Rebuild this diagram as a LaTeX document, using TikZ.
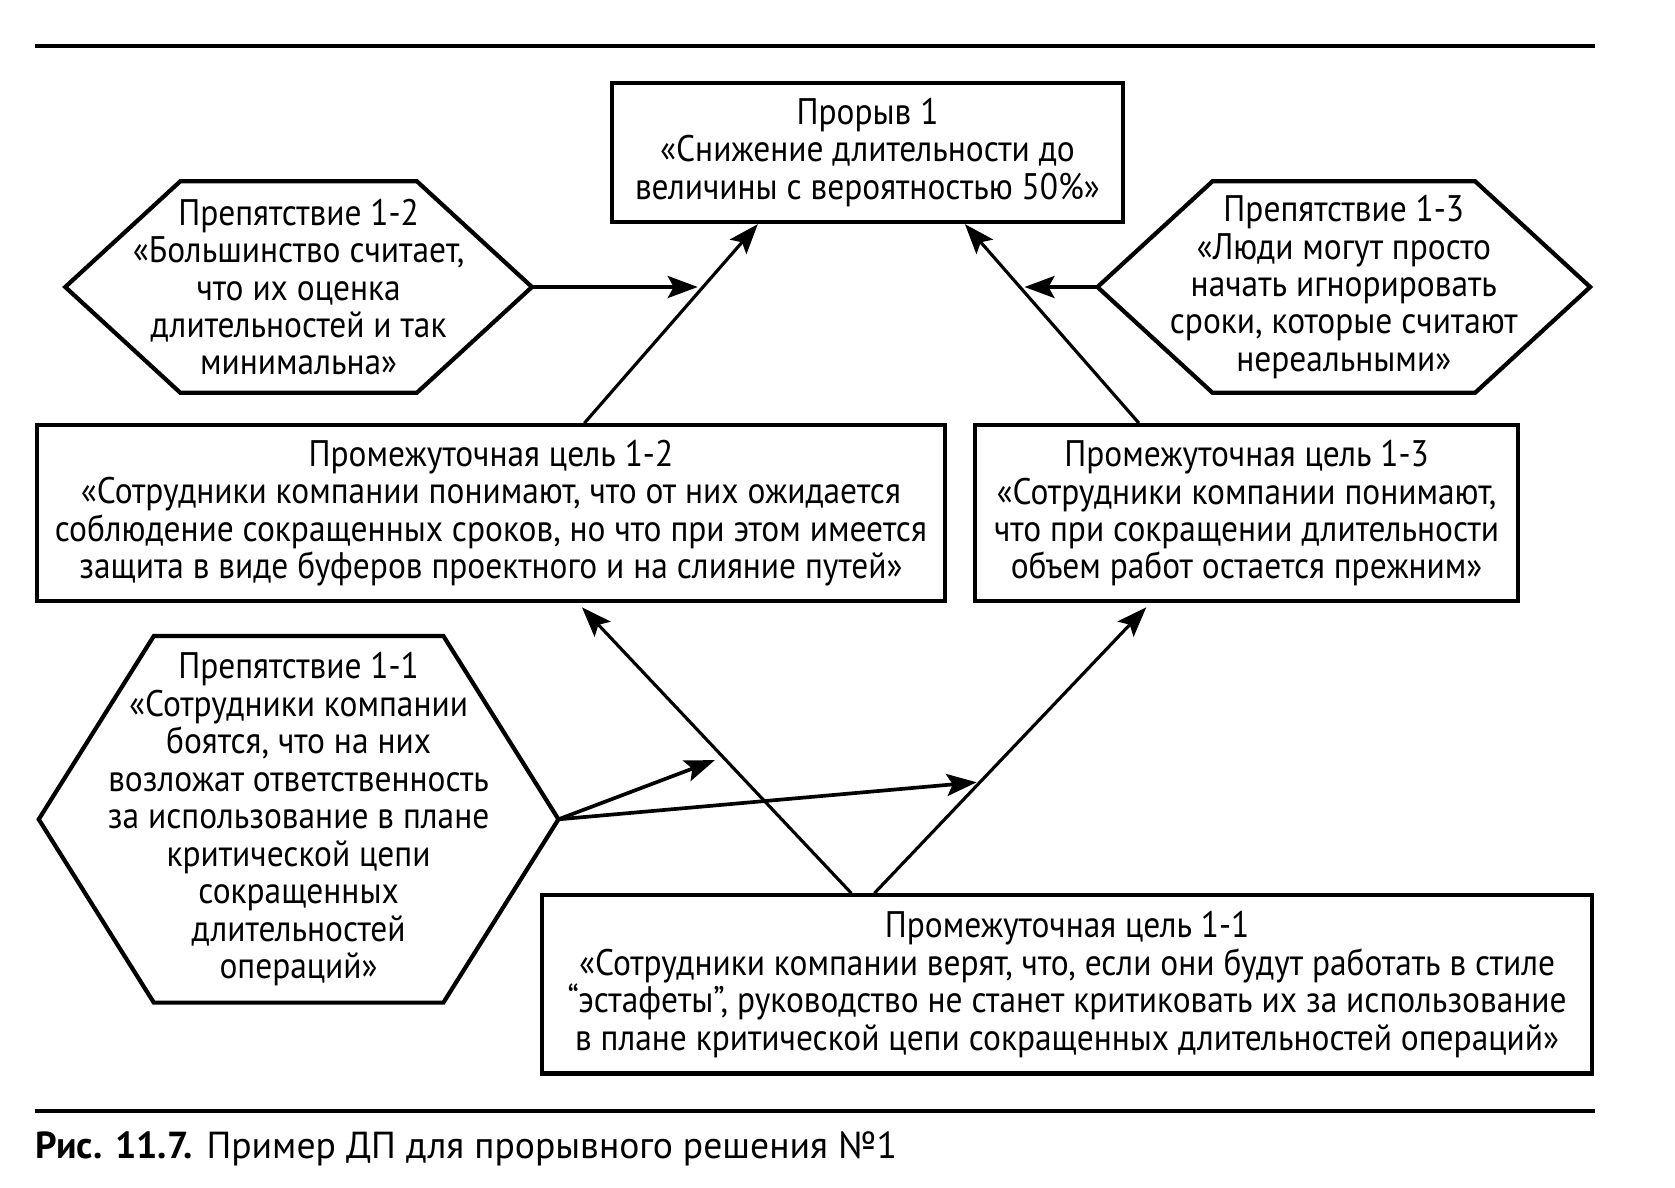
\documentclass[tikz,border=0pt]{standalone}
\usepackage{fontspec}
\setmainfont{PT Sans}
\newfontfamily\boxfont{PT Sans}[FakeStretch=0.905]
\usetikzlibrary{arrows.meta}

\begin{document}
\begin{tikzpicture}%
[x=0.01cm, y=-0.01cm,%
txt/.style={inner sep=0pt, align=center, font=\boxfont\fontsize{10.5}{10.65}\selectfont},%
box/.style={txt, draw, line width=1.2pt},%
hexline/.style={line width=1.2pt, line join=miter},%
link/.style={-{Stealth[length=3mm, width=2.2mm, inset=0.6mm]}, line width=0.9pt},%
side/.style={link, line width=1.05pt}]

\useasboundingbox (0,0) rectangle (1675,1187);
\draw[line width=1.15pt] (35,46) -- (1595,46);
\draw[line width=1.15pt] (35,1111) -- (1595,1111);

\node[box, minimum width=5.11cm, minimum height=1.39cm] (break1) at (867.5,152.5)
  {Прорыв 1\\«Снижение длительности до\\величины с вероятностью 50\%»};

\node[txt, minimum width=4.65cm, minimum height=2.1cm] (obst12) at (298.6,287)
  {Препятствие 1-2\\«Большинство считает,\\что их оценка\\длительностей и так\\минимальна»};
\node[txt, minimum width=4.91cm, minimum height=2.1cm] (obst13) at (1343.8,287)
  {Препятствие 1-3\\«Люди могут просто\\начать игнорировать\\сроки, которые считают\\нереальными»};

\node[box, minimum width=9.07cm, minimum height=1.76cm] (goal12) at (490.9,513.3)
  {Промежуточная цель 1-2\\«Сотрудники компании понимают, что от них ожидается\\соблюдение сокращенных сроков, но что при этом имеется\\защита в виде буферов проектного и на слияние путей»};
\node[box, minimum width=5.43cm, minimum height=1.76cm] (goal13) at (1246.6,513.3)
  {Промежуточная цель 1-3\\«Сотрудники компании понимают,\\что при сокращении длительности\\объем работ остается прежним»};

\node[txt, minimum width=5.18cm, minimum height=3.65cm] (obst11) at (298.6,819.3)
  {Препятствие 1-1\\«Сотрудники компании\\боятся, что на них\\возложат ответственность\\за использование в плане\\критической цепи\\сокращенных\\длительностей\\операций»};

\node[box, minimum width=10.49cm, minimum height=1.78cm] (goal11) at (1067.1,984.4)
  {Промежуточная цель 1-1\\«Сотрудники компании верят, что, если они будут работать в стиле\\“эстафеты”, руководство не станет критиковать их за использование\\в плане критической цепи сокращенных длительностей операций»};

% hexagons round the obstacles
\foreach \h in {obst11, obst12, obst13}
  \draw[hexline] (\h.west) -- ([xshift=1.15cm]\h.north west) -- ([xshift=-1.15cm]\h.north east)
    -- (\h.east) -- ([xshift=-1.15cm]\h.south east) -- ([xshift=1.15cm]\h.south west) -- cycle;

% goals to the breakthrough
\draw[link] ([xshift=5.49cm]goal12.north west) -- coordinate[pos=0.678] (m12) ([xshift=1.48cm]break1.south west);
\draw[link] ([xshift=1.66cm]goal13.north west) -- coordinate[pos=0.682] (m13) ([xshift=3.55cm]break1.south west);
\draw[side] (obst12.east) -- ([xshift=-1.2pt]obst12.east -| m12);
\draw[side] (obst13.west) -- ([xshift=1.2pt]obst13.west -| m13);

% lower goal to the middle goals
\draw[link, shorten >=1.5pt] ([xshift=3.11cm]goal11.north west) -- coordinate[pos=0.47] (m11a) ([xshift=5.43cm]goal12.south west);
\draw[link, shorten >=1.5pt] ([xshift=3.34cm]goal11.north west) -- coordinate[pos=0.384] (m11b) ([xshift=1.77cm]goal13.south west);
\draw[side, shorten >=2.5pt] (obst11.east) -- (m11a);
\draw[side, shorten >=1pt] (obst11.east) -- (m11b);

\node[anchor=base west, inner sep=0pt, font=\fontsize{10.7}{12}\selectfont] (caption) at (35,1158)
  {\textbf{Рис. 11.7.} Пример ДП для прорывного решения №1};
\end{tikzpicture}
\end{document}
